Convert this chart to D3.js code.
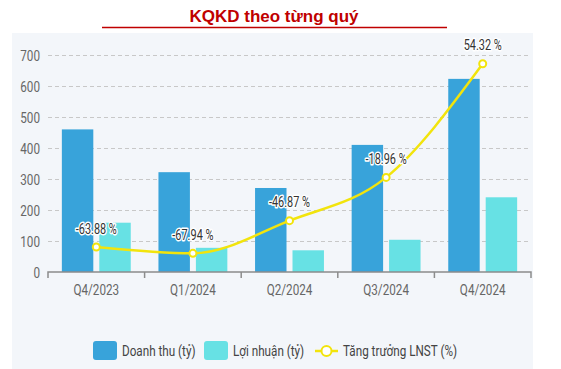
<!DOCTYPE html>
<html>
<head>
<meta charset="utf-8">
<script src="https://cdn.jsdelivr.net/npm/d3@7"></script>
<style>
  body { margin: 0; background: #fff; }
  .narrow { font-family: Roboto, "Liberation Sans", sans-serif; }
</style>
</head>
<body>
<div id="chart"></div>
<script>
(function () {

  // data
  const quarters = ["Q4/2023", "Q1/2024", "Q2/2024", "Q3/2024", "Q4/2024"];
  const revenue = [460, 322, 271, 410, 623];       // Doanh thu (tỷ)
  const profit = [159, 78, 70, 104, 241];          // Lợi nhuận (tỷ)
  const growth = [-63.88, -67.94, -46.87, -18.96, 54.32]; // Tăng trưởng LNST (%)
  const yTicks = [0, 100, 200, 300, 400, 500, 600, 700];
  const seriesNames = ["Doanh thu (tỷ)", "Lợi nhuận (tỷ)", "Tăng trưởng LNST (%)"];

  const colors = { rev: "#38a3da", prof: "#67e1e4", line: "#f2e40c" };
  const squeeze = 0.78; // the original font is a condensed one

  const svg_width = 561, svg_height = 369;
  const left = 48, right = 531, top = 55, bottom = 272;

  const svg = d3.select("#chart").append("svg")
    .attr("width", svg_width)
    .attr("height", svg_height);

  // panel background
  svg.append("rect")
    .attr("x", 12).attr("y", 33)
    .attr("width", 521).attr("height", 336)
    .attr("fill", "#f3f6fa");

  // title
  svg.append("text")
    .attr("x", 274).attr("y", 22)
    .attr("text-anchor", "middle")
    .style("font-family", "'Liberation Sans', Arial, sans-serif")
    .style("font-weight", "bold")
    .style("font-size", "17px")
    .attr("fill", "#c00000")
    .text("KQKD theo từng quý");
  svg.append("line")
    .attr("x1", 102).attr("x2", 447)
    .attr("y1", 27.5).attr("y2", 27.5)
    .attr("stroke", "#c00000")
    .attr("stroke-width", 1.5);

  // scales
  const x = d3.scaleBand().domain(quarters).range([left, right]).padding(0);
  const xs = d3.scaleBand().domain(["rev", "prof"]).range([0, x.bandwidth()])
    .paddingInner(0.16).paddingOuter(0.37);
  const y = d3.scaleLinear().domain([0, 700]).range([bottom, top]);
  const y2 = d3.scaleLinear().domain([-80, 60]).range([bottom, top]);

  // grid
  svg.append("g")
    .selectAll("line")
    .data(yTicks.filter(d => d > 0))
    .enter().append("line")
    .attr("x1", left).attr("x2", right - 2)
    .attr("y1", d => y(d) + 0.5).attr("y2", d => y(d) + 0.5)
    .attr("stroke", "#c8c8c8")
    .attr("stroke-dasharray", "4,3");

  // y labels
  svg.append("g")
    .attr("class", "narrow")
    .selectAll("text")
    .data(yTicks)
    .enter().append("text")
    .attr("transform", d => "translate(40," + (y(d) + 5.5) + ") scale(" + squeeze + ",1)")
    .attr("text-anchor", "end")
    .style("font-size", "15px")
    .attr("fill", "#666")
    .text(d => d);

  // bars
  const rows = quarters.map((q, i) => ({ q: q, rev: revenue[i], prof: profit[i], g: growth[i] }));
  const groups = svg.append("g").selectAll("g")
    .data(rows)
    .enter().append("g")
    .attr("transform", d => "translate(" + x(d.q) + ",0)");
  ["rev", "prof"].forEach(function (k) {
    groups.append("rect")
      .attr("x", xs(k))
      .attr("y", d => y(d[k]))
      .attr("width", xs.bandwidth())
      .attr("height", d => bottom - y(d[k]))
      .attr("fill", colors[k]);
  });

  // x axis
  const xAxis = svg.append("g")
    .attr("transform", "translate(0," + bottom + ")")
    .call(d3.axisBottom(x).tickSize(0).tickPadding(12));
  xAxis.select(".domain").attr("stroke", "#8c8c8c").attr("stroke-width", 1.5)
    .attr("d", "M" + left + ",6V0H" + right + "V6");
  xAxis.selectAll("text")
    .attr("class", "narrow")
    .attr("transform", "scale(" + squeeze + ",1)")
    .style("font-size", "15px")
    .attr("fill", "#666");
  xAxis.selectAll(".sep")
    .data(quarters.slice(1))
    .enter().append("line")
    .attr("class", "sep")
    .attr("x1", d => x(d)).attr("x2", d => x(d))
    .attr("y1", 0).attr("y2", 6)
    .attr("stroke", "#8c8c8c").attr("stroke-width", 1.5);

  // growth line
  const cx = d => x(d.q) + x.bandwidth() / 2;
  svg.append("path")
    .datum(rows)
    .attr("fill", "none")
    .attr("stroke", colors.line)
    .attr("stroke-width", 2.5)
    .attr("d", d3.line().x(cx).y(d => y2(d.g)).curve(d3.curveMonotoneX));
  svg.append("g").selectAll("circle")
    .data(rows)
    .enter().append("circle")
    .attr("cx", cx)
    .attr("cy", d => y2(d.g))
    .attr("r", 3.5)
    .attr("fill", "#fff")
    .attr("stroke", colors.line)
    .attr("stroke-width", 2);
  svg.append("g").attr("class", "narrow").selectAll("text")
    .data(rows)
    .enter().append("text")
    .attr("transform", d => "translate(" + cx(d) + "," + (y2(d.g) - 13.5) + ") scale(" + squeeze + ",1)")
    .attr("text-anchor", "middle")
    .style("font-size", "14px")
    .style("paint-order", "stroke")
    .attr("stroke", "#fff")
    .attr("stroke-width", 3)
    .attr("stroke-linejoin", "round")
    .attr("fill", "#333")
    .text(d => d.g.toFixed(2) + " %");

  // legend
  const legend = svg.append("g").attr("class", "narrow");
  const legendX = [93, 204, 315];
  [colors.rev, colors.prof].forEach(function (c, i) {
    legend.append("rect")
      .attr("x", legendX[i]).attr("y", 341)
      .attr("width", 24).attr("height", 19)
      .attr("rx", 3)
      .attr("fill", c);
  });
  legend.append("line")
    .attr("x1", legendX[2]).attr("x2", legendX[2] + 23)
    .attr("y1", 351).attr("y2", 351)
    .attr("stroke", colors.line).attr("stroke-width", 2.5);
  legend.append("circle")
    .attr("cx", legendX[2] + 11.5).attr("cy", 351).attr("r", 5)
    .attr("fill", "#fff").attr("stroke", colors.line).attr("stroke-width", 2);
  legend.selectAll("text")
    .data(seriesNames)
    .enter().append("text")
    .attr("transform", (d, i) => "translate(" + (legendX[i] + (i < 2 ? 29 : 28)) + ",356) scale(" + squeeze + ",1)")
    .style("font-size", "15px")
    .attr("fill", "#444")
    .text(d => d);

})();
</script>
</body>
</html>
